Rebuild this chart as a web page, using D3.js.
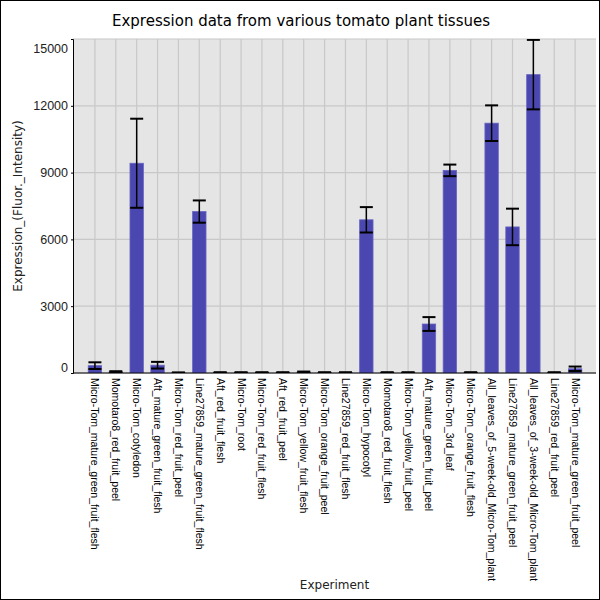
<!DOCTYPE html>
<html>
<head>
<meta charset="utf-8">
<script src="https://cdn.jsdelivr.net/npm/d3@7"></script>
<style>
  body { margin: 0; background: #fff; }
  svg { display: block; font-family: "DejaVu Sans", sans-serif; }
</style>
</head>
<body>
<div id="chart"></div>
<script>
// chart values
const experiments = [
    'Micro-Tom_mature_green_fruit_flesh', 'Momotaro8_red_fruit_peel', 'Micro-Tom_cotyledon',
    'Aft_mature_green_fruit_flesh', 'Micro-Tom_red_fruit_peel', 'Line27859_mature_green_fruit_flesh',
    'Aft_red_fruit_flesh', 'Micro-Tom_root', 'Micro-Tom_red_fruit_flesh', 'Aft_red_fruit_peel',
    'Micro-Tom_yellow_fruit_flesh', 'Micro-Tom_orange_fruit_peel', 'Line27859_red_fruit_flesh',
    'Micro-Tom_hypocotyl', 'Momotaro8_red_fruit_flesh', 'Micro-Tom_yellow_fruit_peel',
    'Aft_mature_green_fruit_peel', 'Micro-Tom_3rd_leaf', 'Micro-Tom_orange_fruit_flesh',
    'All_leaves_of_5-week-old_Micro-Tom_plant', 'Line27859_mature_green_fruit_peel',
    'All_leaves_of_3-week-old_Micro-Tom_plant', 'Line27859_red_fruit_peel', 'Micro-Tom_mature_green_fruit_peel'
];
const means = [330, 50, 9420, 350, 15, 7250, 20, 20, 20, 20, 40, 20, 20, 6880, 20, 20, 2200, 9100, 20,
    11220, 6560, 13400, 20, 190];
const errors = [150, 30, 2000, 150, 10, 500, 15, 15, 15, 15, 25, 15, 15, 570, 15, 15, 310, 260, 15,
    800, 820, 1560, 15, 100];
const yTicks = [0, 3000, 6000, 9000, 12000, 15000];

function drawChart() {
    const width = 600, height = 600;
    const margin = { top: 39, right: 4, bottom: 227, left: 73 };
    const plotW = width - margin.left - margin.right;
    const plotH = height - margin.top - margin.bottom;

    const svg = d3.select('#chart').append('svg')
        .attr('width', width)
        .attr('height', height);

    // frame round the whole picture
    svg.append('rect')
        .attr('x', 0.5).attr('y', 0.5)
        .attr('width', width - 1).attr('height', height - 1)
        .attr('fill', '#fff').attr('stroke', '#000');

    const g = svg.append('g').attr('transform', `translate(${margin.left},${margin.top})`);

    const x = d3.scaleLinear().domain([-1.05, experiments.length]).range([0, plotW]);
    const y = d3.scaleLinear().domain([0, 15000]).range([plotH, 0]);
    const barW = 13.4;

    g.append('rect')
        .attr('width', plotW).attr('height', plotH)
        .attr('fill', '#e5e5e5');

    g.append('clipPath').attr('id', 'plot-clip')
        .append('rect').attr('width', plotW).attr('height', plotH);

    // grid
    g.append('g').selectAll('line')
        .data(experiments)
        .enter().append('line')
        .attr('x1', (d, i) => x(i)).attr('x2', (d, i) => x(i))
        .attr('y1', 0).attr('y2', plotH)
        .attr('stroke', '#c8c8c8').attr('stroke-width', 1.2);

    g.append('g').selectAll('line')
        .data(yTicks)
        .enter().append('line')
        .attr('x1', 0).attr('x2', plotW)
        .attr('y1', d => y(d)).attr('y2', d => y(d))
        .attr('stroke', '#c8c8c8').attr('stroke-width', 1.2);

    const plot = g.append('g').attr('clip-path', 'url(#plot-clip)');

    // bars
    plot.selectAll('rect.bar')
        .data(means)
        .enter().append('rect')
        .attr('class', 'bar')
        .attr('x', (d, i) => x(i) - barW / 2)
        .attr('width', barW)
        .attr('y', d => y(d))
        .attr('height', d => plotH - y(d))
        .attr('fill', '#4b47b1')
        .attr('stroke', '#6865c0')
        .attr('stroke-width', 0.8);

    // error bars
    const capW = 13;
    const err = plot.selectAll('g.err')
        .data(means)
        .enter().append('g')
        .attr('class', 'err');

    err.append('line')
        .attr('x1', (d, i) => x(i)).attr('x2', (d, i) => x(i))
        .attr('y1', (d, i) => y(d + errors[i]))
        .attr('y2', (d, i) => y(Math.max(0, d - errors[i])))
        .attr('stroke', '#000').attr('stroke-width', 1.5);

    err.append('line')
        .attr('x1', (d, i) => x(i) - capW / 2).attr('x2', (d, i) => x(i) + capW / 2)
        .attr('y1', (d, i) => y(d + errors[i])).attr('y2', (d, i) => y(d + errors[i]))
        .attr('stroke', '#000').attr('stroke-width', 2);

    err.append('line')
        .attr('x1', (d, i) => x(i) - capW / 2).attr('x2', (d, i) => x(i) + capW / 2)
        .attr('y1', (d, i) => y(Math.max(0, d - errors[i])))
        .attr('y2', (d, i) => y(Math.max(0, d - errors[i])))
        .attr('stroke', '#000').attr('stroke-width', 2);

    // y axis
    const yAxis = g.append('g')
        .call(d3.axisLeft(y).tickValues(yTicks).tickSize(2).tickFormat(d3.format('d')));
    yAxis.select('.domain').attr('stroke', '#000');
    yAxis.selectAll('text')
        .attr('font-size', 12.5)
        .attr('fill', '#222')
        .attr('dy', d => d === 15000 ? '1.05em' : (d === 0 ? '-0.15em' : '0.32em'));

    // x axis
    const xAxis = g.append('g')
        .attr('transform', `translate(0,${plotH})`)
        .call(d3.axisBottom(x).tickValues(d3.range(experiments.length)).tickSize(0)
            .tickFormat(i => experiments[i]));
    xAxis.select('.domain').attr('stroke', '#000').attr('stroke-width', 1.2)
        .attr('d', `M0,0H${plotW}`);
    xAxis.selectAll('text')
        .attr('font-size', 10.5)
        .attr('fill', '#000')
        .attr('text-anchor', 'start')
        .attr('dy', null)
        .attr('transform', 'rotate(90)')
        .attr('x', 5)
        .attr('y', 0)
        .attr('dominant-baseline', 'central');

    // titles
    svg.append('text')
        .attr('x', 301).attr('y', 26)
        .attr('text-anchor', 'middle')
        .attr('font-size', 15)
        .attr('fill', '#000')
        .text('Expression data from various tomato plant tissues');

    svg.append('text')
        .attr('x', margin.left + plotW / 2).attr('y', 589)
        .attr('text-anchor', 'middle')
        .attr('font-size', 12)
        .attr('fill', '#222')
        .text('Experiment');

    svg.append('text')
        .attr('transform', `translate(22,${margin.top + plotH / 2}) rotate(-90)`)
        .attr('text-anchor', 'middle')
        .attr('font-size', 12)
        .attr('fill', '#222')
        .text('Expression_(Fluor._Intensity)');
}

document.addEventListener('DOMContentLoaded', drawChart);
</script>
</body>
</html>
